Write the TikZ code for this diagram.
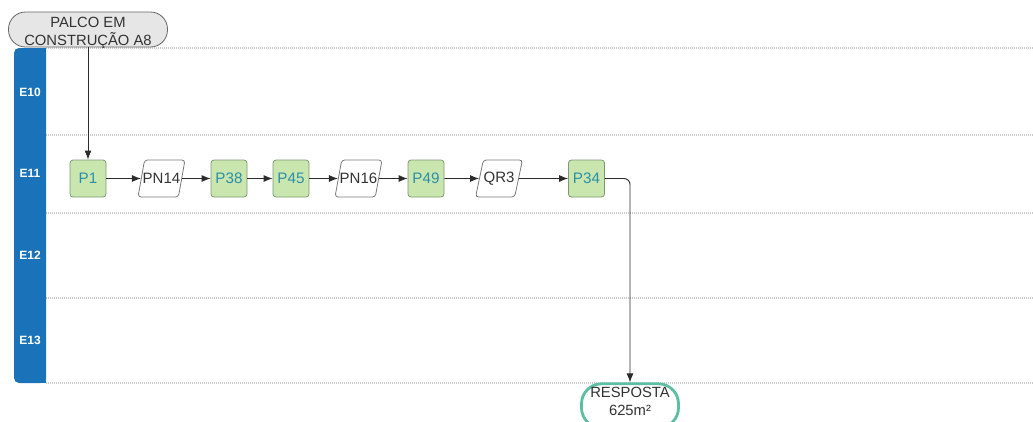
\documentclass[tikz,border=0pt]{standalone}
\usepackage{fontspec}
\setmainfont{Liberation Sans}
\usetikzlibrary{shapes.geometric,arrows.meta}

\definecolor{lanebar}{HTML}{1A73B8}
\definecolor{divcol}{HTML}{C9C9C9}
\definecolor{procfill}{HTML}{C8E6AE}
\definecolor{procdraw}{HTML}{7E9873}
\definecolor{proctext}{HTML}{2C8FA8}
\definecolor{docdraw}{HTML}{7A7A7A}
\definecolor{textdark}{HTML}{333333}
\definecolor{linecol}{HTML}{2B2B2B}
\definecolor{startfill}{HTML}{E6E6E6}
\definecolor{startdraw}{HTML}{666666}
\definecolor{endcol}{HTML}{5CBFA3}

\tikzset{
  lanelbl/.style={text=white, font=\bfseries\fontsize{12}{14}\selectfont, inner sep=0},
  divider/.style={draw=divcol, line width=1.3, dash pattern=on 1pt off 1pt},
  proc/.style={draw=procdraw, fill=procfill, rounded corners=3, line width=0.8,
    minimum width=36, minimum height=37, inner sep=0, text=proctext,
    font=\fontsize{15.2}{17}\selectfont},
  doc/.style={trapezium, trapezium left angle=64, trapezium right angle=116,
    trapezium stretches=true, draw=docdraw, fill=white, rounded corners=3, line width=0.8,
    minimum width=47, minimum height=37, inner xsep=1, inner ysep=0, text=textdark,
    font=\fontsize{15}{17}\selectfont},
  terminal/.style={align=center, inner sep=0, text=textdark,
    font=\fontsize{14.8}{18}\selectfont},
  flow/.style={draw=linecol, line width=0.9, -{Latex[length=9,width=7]}},
}
% fixed-width box so a long label may run past the shape's edges
\newcommand\doclabel[1]{\makebox[24pt]{#1}}

\begin{document}
\begin{tikzpicture}[x=1pt,y=-1pt]
\useasboundingbox (0,0) rectangle (1033,421);

% swimlane dividers
\draw[divider] (46,48) -- (1033,48);
\draw[divider] (46,135) -- (1033,135);
\draw[divider] (46,213) -- (1033,213);
\draw[divider] (46,298) -- (1033,298);
\draw[divider] (46,383) -- (1033,383);

% lane header bar
\fill[lanebar, rounded corners=5] (14,48) rectangle (46,383);
\fill[lanebar] (30,48) rectangle (46,383);
\node[lanelbl] (e10) at (30,92) {E10};
\node[lanelbl] (e11) at (30,173) {E11};
\node[lanelbl] (e12) at (30,255) {E12};
\node[lanelbl] (e13) at (30,340) {E13};

% start terminal
\node[draw=startdraw, fill=startfill, line width=0.8, rounded corners=17,
      minimum width=159, minimum height=35,
      label={[terminal, yshift=-3]center:{PALCO EM\\CONSTRUÇÃO A8}}] (start) at (88,29.5) {};

% process row
\node[proc] (p1)   at (88,178.5)  {P1};
\node[doc]  (pn14) at (161.5,178.5) {\doclabel{PN14}};
\node[proc] (p38)  at (229,178.5) {P38};
\node[proc] (p45)  at (291,178.5) {P45};
\node[doc]  (pn16) at (358.5,178.5) {\doclabel{PN16}};
\node[proc] (p49)  at (426,178.5) {P49};
\node[doc]  (qr3)  at (499,178.5) {\doclabel{QR3}};
\node[proc] (p34)  at (586.5,178.5) {P34};

% end terminal
\node[draw=endcol, fill=white, line width=2.8, rounded corners=20,
      minimum width=97, minimum height=44, anchor=north,
      label={[terminal, yshift=4]center:{RESPOSTA\\625m²}}] (resp) at (630,382.4) {};

% connectors
\draw[flow] (start.south) -- (p1.north);
\draw[flow] (p1) -- (pn14);
\draw[flow] (pn14) -- (p38);
\draw[flow] (p38) -- (p45);
\draw[flow] (p45) -- (pn16);
\draw[flow] (pn16) -- (p49);
\draw[flow] (p49) -- (qr3);
\draw[flow] (qr3) -- (p34);
\draw[flow, rounded corners=6] (p34.east) -| (resp.north);
\end{tikzpicture}
\end{document}
